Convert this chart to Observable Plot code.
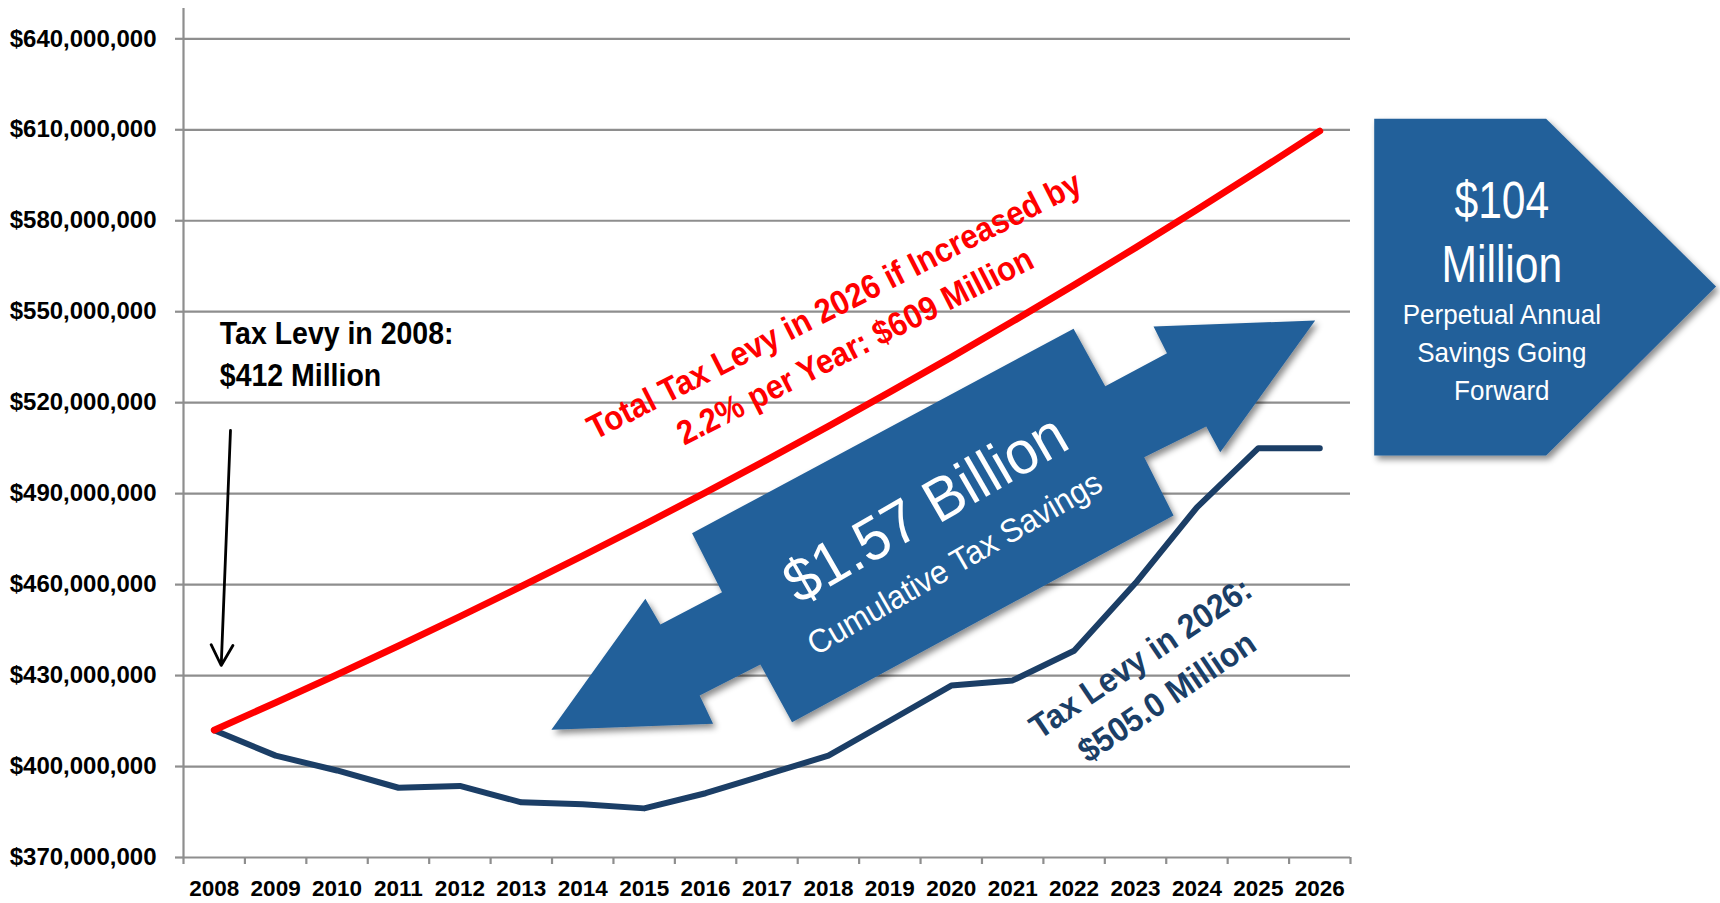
<!DOCTYPE html>
<html>
<head>
<meta charset="utf-8">
<script src="https://cdn.jsdelivr.net/npm/d3@7"></script>
<script src="https://cdn.jsdelivr.net/npm/@observablehq/plot@0.6"></script>
<style>
  html, body { margin: 0; padding: 0; background: #fff; }
  #chart svg { display: block; }
</style>
</head>
<body>
<div id="chart"></div>
<script>
// ---------------- DATA ----------------
const years = [2008, 2009, 2010, 2011, 2012, 2013, 2014, 2015, 2016, 2017,
               2018, 2019, 2020, 2021, 2022, 2023, 2024, 2025, 2026];
// Actual / planned tax levy, $ millions
const actualLevy = [412.0, 403.6, 398.7, 393.0, 393.6, 388.2, 387.6, 386.2, 391.2, 397.4,
                    403.6, 415.1, 426.7, 428.4, 438.2, 460.5, 485.5, 505.0, 505.0];
// Levy if increased 2.2% per year, $ millions
const projectedLevy = [412.0, 421.1, 430.3, 439.8, 449.5, 459.4, 469.5, 479.8, 490.4, 501.2,
                       512.2, 523.5, 535.0, 546.8, 558.8, 571.1, 583.7, 596.5, 609.6];
// y tick values, $ millions
const yTicks = [370, 400, 430, 460, 490, 520, 550, 580, 610, 640];
const yTickLabels = ["$370,000,000", "$400,000,000", "$430,000,000", "$460,000,000", "$490,000,000",
                     "$520,000,000", "$550,000,000", "$580,000,000", "$610,000,000", "$640,000,000"];
const xTickLabels = years.map(String);

// ---------------- ANNOTATIONS (in data coordinates: year, $M) ----------------
const savingsArrow = [
  [2013.490, 412.12], [2015.020, 455.32], [2015.264, 446.84], [2016.268, 457.50],
  [2015.780, 476.96], [2021.991, 544.37], [2022.507, 525.44], [2023.512, 536.32],
  [2023.293, 545.13], [2025.925, 547.11], [2024.379, 503.67], [2024.151, 512.15],
  [2023.142, 502.02], [2023.619, 482.79], [2017.408, 414.62], [2016.892, 433.65],
  [2015.904, 423.43], [2016.122, 414.09]
];
const forwardBox = [
  [2026.886, 613.63], [2029.685, 613.63], [2032.452, 558.32], [2029.685, 502.58], [2026.886, 502.58]
];
const levyArrow = [{x1: 2008.265, y1: 510.83, x2: 2008.114, y2: 433.32}];

const rows = years.map((year, i) => ({year, actual: actualLevy[i], projected: projectedLevy[i]}));

const FONT = "'Liberation Sans', Arial, Helvetica, sans-serif";
const GRID = "#8e8e8e";
const BLUE = "#23609a";
const NAVY = "#1b3e66";
const RED = "#ff0000";

function label(d, opts) {
  return Plot.text([d], {x: "x", y: "y", text: "text", fontFamily: FONT, ...opts});
}

const chart = Plot.plot({
  width: 1720,
  height: 903,
  marginLeft: 183,
  marginRight: 370,
  marginTop: 8,
  marginBottom: 46,
  x: {type: "linear", domain: [2007.5, 2026.5]},
  y: {domain: [370, 650]},
  style: {fontFamily: FONT, background: "#fff", color: "#000", overflow: "visible"},
  marks: [
    Plot.gridY(yTicks, {stroke: GRID, strokeOpacity: 1, strokeWidth: 2.2}),
    Plot.ruleX([2007.5], {stroke: GRID, strokeWidth: 2.2}),
    Plot.axisY({
      ticks: yTicks, tickSize: 8, tickPadding: 19,
      tickFormat: (d) => yTickLabels[yTicks.indexOf(d)],
      stroke: GRID, strokeWidth: 2.2, strokeOpacity: 1,
      fontSize: 24, fontWeight: "bold", label: null
    }),
    Plot.axisX({
      ticks: years.map((y) => y - 0.5).concat([2026.5]), tickSize: 7,
      tickFormat: () => "", stroke: GRID, strokeWidth: 2.2, strokeOpacity: 1, label: null
    }),
    Plot.axisX({
      ticks: years, tickSize: 0, tickPadding: 23,
      tickFormat: (d) => xTickLabels[years.indexOf(d)],
      fontSize: 22.5, fontWeight: "bold", label: null
    }),

    // annotation shapes
    Plot.line(savingsArrow, {x: (d) => d[0], y: (d) => d[1], curve: "linear-closed",
      fill: BLUE, stroke: "none"}),
    Plot.line(forwardBox, {x: (d) => d[0], y: (d) => d[1], curve: "linear-closed",
      fill: BLUE, stroke: "none"}),

    // data lines
    Plot.line(rows, {x: "year", y: "actual", stroke: NAVY, strokeWidth: 6,
      strokeLinecap: "round", strokeLinejoin: "round"}),
    Plot.line(rows, {x: "year", y: "projected", stroke: RED, strokeWidth: 6.8,
      strokeLinecap: "round", strokeLinejoin: "round"}),

    // black pointer arrow
    Plot.arrow(levyArrow, {x1: "x1", y1: "y1", x2: "x2", y2: "y2",
      stroke: "#000", strokeWidth: 2.8, headLength: 12.4, headAngle: 56}),

    // texts
    label({x: 2008.091, y: 525.34, text: "Tax Levy in 2008:\n$412 Million"},
      {textAnchor: "start", lineAnchor: "bottom", fontSize: 32, fontWeight: "bold",
       fill: "#000", lineHeight: 1.3125}),
    label({x: 2018.239, y: 546.3, text: "Total Tax Levy in 2026 if Increased by\n2.2% per Year: $609 Million"},
      {textAnchor: "middle", lineAnchor: "middle", fontSize: 34, fontWeight: "bold",
       fill: RED, rotate: -27, lineHeight: 1.34}),
    label({x: 2023.264, y: 430.4, text: "Tax Levy in 2026:\n$505.0 Million"},
      {textAnchor: "middle", lineAnchor: "middle", fontSize: 34, fontWeight: "bold",
       fill: NAVY, rotate: -34, lineHeight: 1.38}),
    label({x: 2019.582, y: 484.9, text: "$1.57 Billion"},
      {textAnchor: "middle", lineAnchor: "middle", fontSize: 61, fill: "#fff", rotate: -30}),
    label({x: 2020.056, y: 466.9, text: "Cumulative Tax Savings"},
      {textAnchor: "middle", lineAnchor: "middle", fontSize: 33, fill: "#fff", rotate: -30}),
    label({x: 2028.964, y: 580.98, text: "$104"},
      {textAnchor: "middle", lineAnchor: "bottom", fontSize: 52, fill: "#fff"}),
    label({x: 2028.964, y: 559.74, text: "Million"},
      {textAnchor: "middle", lineAnchor: "bottom", fontSize: 52, fill: "#fff"}),
    label({x: 2028.964, y: 520.95, text: "Perpetual Annual\nSavings Going\nForward"},
      {textAnchor: "middle", lineAnchor: "bottom", fontSize: 28, fill: "#fff", lineHeight: 1.346})
  ]
});

// drop shadow for the blue shapes
const svg = d3.select(chart);
const defs = svg.insert("defs", ":first-child");
const f = defs.append("filter").attr("id", "shape-shadow")
  .attr("x", "-10%").attr("y", "-10%").attr("width", "130%").attr("height", "130%");
f.append("feDropShadow").attr("dx", 3).attr("dy", 4).attr("stdDeviation", 3)
  .attr("flood-color", "#000").attr("flood-opacity", 0.45);
svg.selectAll(`g[fill="${BLUE}"]`).attr("filter", "url(#shape-shadow)");

// horizontal compression of annotation text (matches the condensed look of the original)
const squeeze = [
  ["Tax Levy in 2008", 0.89], ["Total Tax Levy", 0.91], ["Tax Levy in 2026", 0.93],
  ["$1.57", 0.95], ["Cumulative", 0.95], ["$104", 0.82], ["Million", 0.82], ["Perpetual", 0.93]
];
svg.selectAll("text").each(function () {
  const s = this.textContent;
  const hit = squeeze.find(([start]) => start === "Million" ? s === "Million" : s.startsWith(start));
  if (!hit) return;
  const tr = this.getAttribute("transform") || "";
  this.setAttribute("transform", `${tr} scale(${hit[1]},1)`);
});

document.getElementById("chart").appendChild(chart);
</script>
</body>
</html>
